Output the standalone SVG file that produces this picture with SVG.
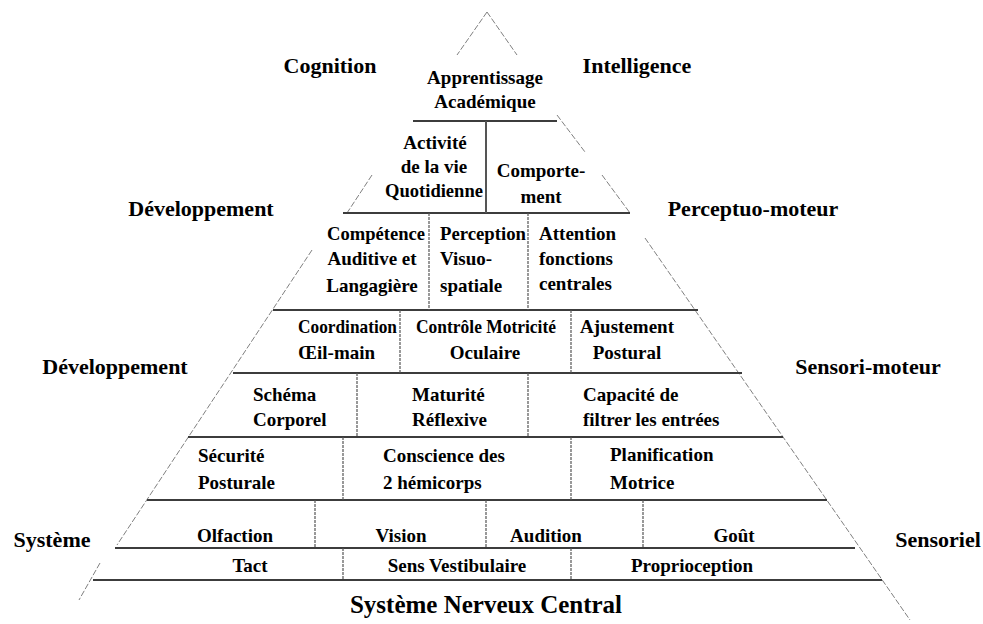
<svg xmlns="http://www.w3.org/2000/svg" width="983" height="624" viewBox="0 0 983 624">
<style>
  .bg { fill: #ffffff; }
  .edge { stroke: #808080; stroke-width: 1; stroke-dasharray: 6 2; fill: none; }
  .row { stroke: #3c3c3c; stroke-width: 2; fill: none; }
  .div { stroke: #555555; stroke-width: 1.2; stroke-dasharray: 3 1; fill: none; }
  .divs { stroke: #555555; stroke-width: 2; fill: none; }
  text { font-family: "Liberation Serif", "Times New Roman", serif; font-weight: bold; fill: #000000; }
  .big { font-size: 22px; text-anchor: middle; }
  .base { font-size: 25px; text-anchor: middle; }
  .c { font-size: 19px; text-anchor: middle; }
  .l { font-size: 19px; text-anchor: start; }
</style>
<rect class="bg" x="0" y="0" width="983" height="624"/>

<g id="connectors">
  <line class="edge" x1="487" y1="12" x2="457" y2="55"/>
  <line class="edge" x1="487" y1="12" x2="517" y2="55"/>
  <line class="edge" x1="557" y1="115" x2="585" y2="152"/>
  <line class="edge" x1="372" y1="175" x2="347" y2="213"/>
  <line class="edge" x1="602" y1="175" x2="630" y2="213"/>
  <line class="edge" x1="312" y1="250" x2="117" y2="545"/>
  <line class="edge" x1="100" y1="563" x2="79" y2="600"/>
  <line class="edge" x1="645" y1="238" x2="910" y2="620"/>
  <line class="row" x1="413" y1="121" x2="557" y2="121"/>
  <line class="row" x1="343" y1="213" x2="630" y2="213"/>
  <line class="row" x1="273" y1="310" x2="698" y2="310"/>
  <line class="row" x1="233" y1="373" x2="742" y2="373"/>
  <line class="row" x1="188" y1="437" x2="783" y2="437"/>
  <line class="row" x1="147" y1="500" x2="827" y2="500"/>
  <line class="row" x1="115" y1="548" x2="855" y2="548"/>
  <line class="row" x1="93" y1="580" x2="882" y2="580"/>
  <line class="divs" x1="486" y1="121" x2="486" y2="213"/>
  <line class="div" x1="429" y1="213" x2="429" y2="310"/>
  <line class="div" x1="528" y1="213" x2="528" y2="310"/>
  <line class="div" x1="400" y1="310" x2="400" y2="373"/>
  <line class="div" x1="571" y1="310" x2="571" y2="373"/>
  <line class="div" x1="357" y1="373" x2="357" y2="437"/>
  <line class="div" x1="528" y1="373" x2="528" y2="437"/>
  <line class="div" x1="343" y1="437" x2="343" y2="500"/>
  <line class="div" x1="571" y1="437" x2="571" y2="500"/>
  <line class="div" x1="315" y1="500" x2="315" y2="548"/>
  <line class="div" x1="486" y1="500" x2="486" y2="548"/>
  <line class="div" x1="643" y1="500" x2="643" y2="548"/>
  <line class="div" x1="343" y1="548" x2="343" y2="580"/>
  <line class="div" x1="571" y1="548" x2="571" y2="580"/>
</g>

<g id="label-cognition"><text class="big" x="330" y="73">Cognition</text></g>
<g id="label-intelligence"><text class="big" x="637" y="73">Intelligence</text></g>
<g id="label-developpement-1"><text class="big" x="201" y="216">Développement</text></g>
<g id="label-perceptuo-moteur"><text class="big" x="753" y="216">Perceptuo-moteur</text></g>
<g id="label-developpement-2"><text class="big" x="115" y="374">Développement</text></g>
<g id="label-sensori-moteur"><text class="big" x="868" y="374">Sensori-moteur</text></g>
<g id="label-systeme"><text class="big" x="52" y="547">Système</text></g>
<g id="label-sensoriel"><text class="big" x="938" y="547">Sensoriel</text></g>
<g id="label-snc"><text class="base" x="486" y="613">Système Nerveux Central</text></g>

<g id="node-apprentissage">
  <text class="c" x="485" y="84">Apprentissage</text>
  <text class="c" x="485" y="108">Académique</text>
</g>
<g id="node-activite">
  <text class="c" x="435" y="149">Activité</text>
  <text class="c" x="434" y="173">de la vie</text>
  <text class="c" x="434" y="197" textLength="98" lengthAdjust="spacingAndGlyphs">Quotidienne</text>
</g>
<g id="node-comportement">
  <text class="c" x="541" y="177">Comporte-</text>
  <text class="c" x="541" y="203">ment</text>
</g>
<g id="node-competence">
  <text class="c" x="376" y="240" textLength="98" lengthAdjust="spacingAndGlyphs">Compétence</text>
  <text class="c" x="372" y="265">Auditive et</text>
  <text class="c" x="372" y="292">Langagière</text>
</g>
<g id="node-perception">
  <text class="l" x="440" y="240" textLength="86" lengthAdjust="spacingAndGlyphs">Perception</text>
  <text class="l" x="440" y="265">Visuo-</text>
  <text class="l" x="440" y="292">spatiale</text>
</g>
<g id="node-attention">
  <text class="l" x="539" y="240">Attention</text>
  <text class="l" x="539" y="265">fonctions</text>
  <text class="l" x="539" y="290">centrales</text>
</g>
<g id="node-coordination">
  <text class="l" x="298" y="333" textLength="99" lengthAdjust="spacingAndGlyphs">Coordination</text>
  <text class="l" x="298" y="359">Œil-main</text>
</g>
<g id="node-controle">
  <text class="c" x="486" y="333" textLength="140" lengthAdjust="spacingAndGlyphs">Contrôle Motricité</text>
  <text class="c" x="485" y="359">Oculaire</text>
</g>
<g id="node-ajustement">
  <text class="c" x="627" y="333">Ajustement</text>
  <text class="c" x="627" y="359">Postural</text>
</g>
<g id="node-schema">
  <text class="l" x="253" y="401">Schéma</text>
  <text class="l" x="253" y="426">Corporel</text>
</g>
<g id="node-maturite">
  <text class="l" x="412" y="401">Maturité</text>
  <text class="l" x="412" y="426">Réflexive</text>
</g>
<g id="node-capacite">
  <text class="l" x="583" y="401">Capacité de</text>
  <text class="l" x="583" y="426">filtrer les entrées</text>
</g>
<g id="node-securite">
  <text class="l" x="198" y="462">Sécurité</text>
  <text class="l" x="198" y="489">Posturale</text>
</g>
<g id="node-conscience">
  <text class="l" x="383" y="462">Conscience des</text>
  <text class="l" x="383" y="489">2 hémicorps</text>
</g>
<g id="node-planification">
  <text class="l" x="610" y="461">Planification</text>
  <text class="l" x="610" y="489">Motrice</text>
</g>
<g id="node-olfaction"><text class="c" x="235" y="542">Olfaction</text></g>
<g id="node-vision"><text class="c" x="401" y="542">Vision</text></g>
<g id="node-audition"><text class="c" x="546" y="542">Audition</text></g>
<g id="node-gout"><text class="c" x="734" y="542">Goût</text></g>
<g id="node-tact"><text class="c" x="250" y="572">Tact</text></g>
<g id="node-vestibulaire"><text class="c" x="457" y="572">Sens Vestibulaire</text></g>
<g id="node-proprioception"><text class="c" x="692" y="572">Proprioception</text></g>
</svg>
